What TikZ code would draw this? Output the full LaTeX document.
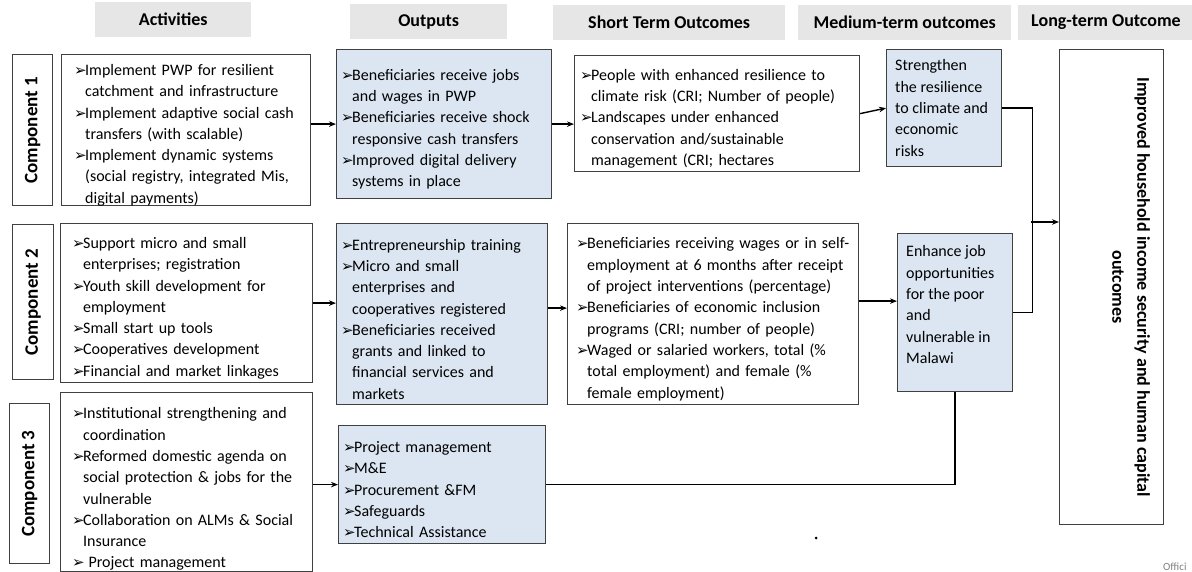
\documentclass[tikz,border=0pt]{standalone}
\usepackage{fontspec}
\setmainfont{Carlito}
\newfontfamily\dvfont{DejaVu Sans}
\usetikzlibrary{arrows.meta}
\definecolor{hdrgray}{HTML}{E7E6E6}
\definecolor{lblue}{HTML}{DCE6F2}
\definecolor{edgegray}{HTML}{404040}
\newcommand\bul{\raisebox{0pt}{\resizebox{12.5pt}{!}{\dvfont ➢}}}
\newcommand\itm[1]{\par\hangindent=11pt\hangafter=1\noindent\makebox[11pt][l]{\bul}#1}
\newcommand\mkbox[6]{\node[#6, anchor=north west, minimum width={#4-#2}, minimum height={#5-#3}] (#1) at (#2,#3) {};}
\tikzset{
  wbox/.style={draw=edgegray, line width=1.2pt, fill=white, inner sep=0pt},
  bbox/.style={wbox, fill=lblue},
  hbox/.style={fill=hdrgray, inner sep=0pt},
  htxt/.style={font=\bfseries\fontsize{18}{20}\selectfont, inner sep=0pt},
  ctxt/.style={rotate=90, font=\bfseries\fontsize{19}{20}\selectfont, inner sep=0pt},
  txt/.style={align=left, inner sep=0pt, anchor=west},
  arr/.style={-{Stealth[length=7pt,width=5.5pt]}, line width=1.4pt},
  ln/.style={line width=1.4pt}
}
\begin{document}
\begin{tikzpicture}[x=1pt,y=-1pt,font=\fontsize{16}{21.3}\selectfont]
\useasboundingbox[fill=white] (0,0) rectangle (1192,572);
% headers
\mkbox{h1}{95}{2}{251}{37}{hbox}
\mkbox{h2}{350}{4}{507}{39}{hbox}
\mkbox{h3}{553}{5}{785}{40}{hbox}
\mkbox{h4}{798}{5}{1011}{40}{hbox}
\mkbox{h5}{1018}{5}{1192}{40}{hbox}
\node[htxt] (h1t) at (h1) {Activities};
\node[htxt] (h2t) at (h2) {Outputs};
\node[htxt] (h3t) at (h3) {Short Term Outcomes};
\node[htxt] (h4t) at (h4) {Medium-term outcomes};
\node[htxt] (h5t) at (1106,22) {Long-term Outcome};
% component labels
\mkbox{c1}{12}{54}{52}{205}{wbox}
\mkbox{c2}{12}{224}{53}{379}{wbox}
\mkbox{c3}{9}{403}{49}{563}{wbox}
\node[ctxt] (c1t) at (c1) {Component 1};
\node[ctxt] (c2t) at (c2) {Component 2};
\node[ctxt] (c3t) at (c3) {Component 3};
% boxes
\mkbox{a1}{61}{54}{310}{205}{wbox}
\mkbox{a2}{60}{223}{312}{382}{wbox}
\mkbox{a3}{60}{392}{312}{571}{wbox}
\mkbox{o1}{336}{49}{551}{198}{bbox}
\mkbox{o2}{336}{223}{547}{404}{bbox}
\mkbox{o3}{338}{425}{545}{543}{bbox}
\mkbox{s1}{574}{55}{859}{171}{wbox}
\mkbox{s2}{567}{223}{858}{404}{wbox}
\mkbox{m1}{886}{49}{1001}{166}{bbox}
\mkbox{m2}{897}{233}{1012}{391}{bbox}
\mkbox{lt}{1059}{49}{1163}{524}{wbox}
% texts
\node[txt, text width=240pt] (a1t) at ([xshift=13pt]a1.west) {%
\itm{Implement PWP for resilient\newline catchment and infrastructure}%
\itm{Implement adaptive social cash\newline transfers (with scalable)}%
\itm{Implement dynamic systems\newline (social registry, integrated Mis,\newline digital payments)}\par};
\node[txt, text width=240pt] (a2t) at ([xshift=12pt]a2.west) {%
\itm{Support micro and small\newline enterprises; registration}%
\itm{Youth skill development for\newline employment}%
\itm{Small start up tools}%
\itm{Cooperatives development}%
\itm{Financial and market linkages}\par};
\node[txt, text width=240pt] (a3t) at ([xshift=12pt,yshift=-2pt]a3.west) {%
\itm{Institutional strengthening and\newline coordination}%
\itm{Reformed domestic agenda on\newline social protection \& jobs for the\newline vulnerable}%
\itm{Collaboration on ALMs \& Social\newline Insurance}%
\itm{ Project management}\par};
\node[txt, text width=210pt] (o1t) at ([xshift=5pt]o1.west) {%
\itm{Beneficiaries receive jobs\newline and wages in PWP}%
\itm{Beneficiaries receive shock\newline responsive cash transfers}%
\itm{Improved digital delivery\newline systems in place}\par};
\node[txt, text width=210pt] (o2t) at ([xshift=5pt]o2.west) {%
\itm{Entrepreneurship training}%
\itm{Micro and small\newline enterprises and\newline cooperatives registered}%
\itm{Beneficiaries received\newline grants and linked to\newline financial services and\newline markets}\par};
\node[txt, text width=205pt] (o3t) at ([xshift=5pt]o3.west) {%
\itm{Project management}%
\itm{M\&E}%
\itm{Procurement \&FM}%
\itm{Safeguards}%
\itm{Technical Assistance}\par};
\node[txt, text width=280pt] (s1t) at ([xshift=6pt]s1.west) {%
\itm{People with enhanced resilience to\newline climate risk (CRI; Number of people)}%
\itm{Landscapes under enhanced\newline conservation and/sustainable\newline management (CRI; hectares}\par};
\node[txt, text width=285pt] (s2t) at ([xshift=9pt]s2.west) {%
\itm{Beneficiaries receiving wages or in self-\newline employment at 6 months after receipt\newline of project interventions (percentage)}%
\itm{Beneficiaries of economic inclusion\newline programs (CRI; number of people)}%
\itm{Waged or salaried workers, total (\%\newline total employment) and female (\%\newline female employment)}\par};
\node[txt] (m1t) at ([xshift=9pt]m1.west) {Strengthen\\the resilience\\to climate and\\economic\\risks};
\node[txt] (m2t) at ([xshift=9pt,yshift=8pt]m2.west) {Enhance job\\opportunities\\for the poor\\and\\vulnerable in\\Malawi};
\node[rotate=-90, align=center, inner sep=0pt, font=\bfseries\fontsize{18}{25}\selectfont] (ltt) at (1131,287) {Improved household income security and human capital\\outcomes};
% connectors
\draw[arr] (a1.east |- o1.west) -- (o1.west);
\draw[arr] (o1.east) -- (o1.east -| s1.west);
\draw[arr] (s1.east) -- (m1.west);
\draw[arr] (a2.east) -- (a2.east -| o2.west);
\draw[arr] ([yshift=6pt]o2.east) -- ([yshift=6pt]o2.east -| s2.west);
\draw[arr] ([yshift=13pt]s2.east) -- ([yshift=13pt]s2.east -| m2.west);
\draw[arr] (a3.east |- o3.west) -- (o3.west);
\draw[ln] (o3.east) -- (o3.east -| m2.south) -- (m2.south);
\draw[ln] (m1.east) -- ++(30,0) |- (m2.east);
\coordinate (jn) at (1031,222);
\draw[arr] (jn) -- (jn -| lt.west);
% stray marks
\fill (816,538) circle (1.5);
\node[anchor=west, inner sep=0pt, text=gray, font=\fontsize{11}{11}\selectfont] (offi) at (1163,567) {Offici};
\end{tikzpicture}
\end{document}
